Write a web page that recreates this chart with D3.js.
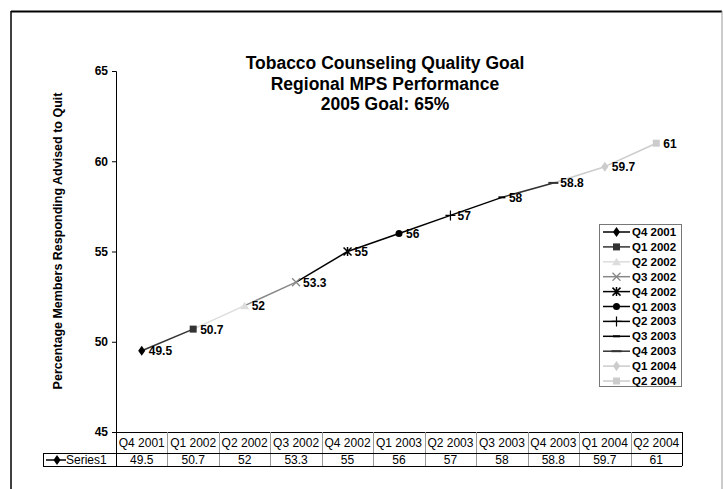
<!DOCTYPE html>
<html><head><meta charset="utf-8">
<script src="https://cdn.jsdelivr.net/npm/d3@7"></script>
<style>body{margin:0;background:#fff;} svg{display:block;font-family:"Liberation Sans",Arial,sans-serif;}</style>
</head><body>
<script>
const categories = ["Q4 2001","Q1 2002","Q2 2002","Q3 2002","Q4 2002","Q1 2003","Q2 2003","Q3 2003","Q4 2003","Q1 2004","Q2 2004"];
const values = [49.5,50.7,52,53.3,55,56,57,58,58.8,59.7,61];
const labels = ["49.5","50.7","52","53.3","55","56","57","58","58.8","59.7","61"];
const yTicks = [45,50,55,60,65];
const titleLines = ["Tobacco Counseling Quality Goal","Regional MPS Performance","2005 Goal: 65%"];
const pointColors = ["#000","#333","#ddd","#888","#000","#000","#000","#000","#333","#ccc","#ccc"];
const pointShapes = ["diamond","square","triangle","x","star","circle","plus","shortdash","longdash","diamond","square"];

const W=723,H=489;
const svg=d3.select("body").append("svg").attr("width",W).attr("height",H);
svg.append("rect").attr("width",W).attr("height",H).attr("fill","#fff");
// outer border
svg.append("line").attr("x1",11).attr("x2",11).attr("y1",11).attr("y2",H).attr("stroke","#000").attr("stroke-width",1.5);
svg.append("line").attr("x1",11).attr("x2",722).attr("y1",11.5).attr("y2",11.5).attr("stroke","#000").attr("stroke-width",2);
svg.append("line").attr("x1",722).attr("x2",722).attr("y1",11).attr("y2",H).attr("stroke","#999").attr("stroke-width",1);

const L=116,R=682,T=71,B=432;
const x=d3.scaleBand().domain(categories).range([L,R]);
const y=d3.scaleLinear().domain([45,65]).range([B,T]);

// title
svg.append("g").selectAll("text").data(titleLines).join("text")
  .attr("x",385).attr("y",(d,i)=>69+i*20.5).attr("text-anchor","middle")
  .attr("font-size",17.5).attr("font-weight","bold").text(d=>d);

// y axis
const ya=svg.append("g").attr("transform",`translate(${L},0)`)
  .call(d3.axisLeft(y).tickValues(yTicks).tickSize(4).tickPadding(4).tickFormat(d3.format("d")));
ya.select(".domain").attr("stroke","#000");
ya.selectAll("text").attr("font-size",12).attr("font-weight","bold").attr("font-family","Liberation Sans, Arial, sans-serif").attr("fill","#000");
ya.selectAll("line").attr("stroke","#000");
svg.append("text").attr("transform",`translate(62,241) rotate(-90)`).attr("text-anchor","middle")
  .attr("font-size",12.5).attr("font-weight","bold").text("Percentage Members Responding Advised to Quit");
// x axis line
svg.append("line").attr("x1",L).attr("x2",R).attr("y1",B+0.5).attr("y2",B+0.5).attr("stroke","#000");

// segments
const cx=c=>x(c)+x.bandwidth()/2;
for(let i=1;i<values.length;i++){
  svg.append("line").attr("x1",cx(categories[i-1])).attr("y1",y(values[i-1]))
    .attr("x2",cx(categories[i])).attr("y2",y(values[i]))
    .attr("stroke",pointColors[i]).attr("stroke-width",1.5);
}
function marker(g,shape,color,px,py,s){
  s=s||1;
  const gg=g.append("g").attr("transform",`translate(${px},${py}) scale(${s})`);
  switch(shape){
    case "diamond": gg.append("path").attr("d",d3.symbol(d3.symbolDiamond,36)()).attr("fill",color).attr("transform","scale(1.1,0.9)");break;
    case "square": gg.append("rect").attr("x",-3.5).attr("y",-3.5).attr("width",7).attr("height",7).attr("fill",color);break;
    case "triangle": gg.append("path").attr("d","M0,-4L4.5,3.5L-4.5,3.5Z").attr("fill",color);break;
    case "x": gg.append("path").attr("d","M-4,-4L4,4M-4,4L4,-4").attr("stroke",color).attr("stroke-width",1.3);break;
    case "star": gg.append("path").attr("d","M-4,-4L4,4M-4,4L4,-4M0,-4.5L0,4.5").attr("stroke",color).attr("stroke-width",1.5);break;
    case "circle": gg.append("circle").attr("r",3.5).attr("fill",color);break;
    case "plus": gg.append("path").attr("d","M-5,0L5,0M0,-5L0,5").attr("stroke",color).attr("stroke-width",1.2);break;
    case "shortdash": gg.append("path").attr("d","M-3.5,0L3.5,0").attr("stroke",color).attr("stroke-width",2);break;
    case "longdash": gg.append("path").attr("d","M-5,0L5,0").attr("stroke",color).attr("stroke-width",2);break;
  }
}
const pts=svg.append("g");
values.forEach((v,i)=>{
  marker(pts,pointShapes[i],pointColors[i],cx(categories[i]),y(v));
});
svg.append("g").selectAll("text").data(values).join("text")
  .attr("x",(d,i)=>cx(categories[i])+7).attr("y",d=>y(d)+4.5)
  .attr("font-size",12).attr("font-weight","bold").text((d,i)=>labels[i]);

// legend
const lg=svg.append("g");
lg.append("rect").attr("x",599.5).attr("y",224.5).attr("width",82).attr("height",162).attr("fill","#fff").attr("stroke","#777");
categories.forEach((c,i)=>{
  const ly=232+i*14.9;
  lg.append("line").attr("x1",603).attr("x2",630).attr("y1",ly).attr("y2",ly).attr("stroke",pointColors[i]).attr("stroke-width",1.5);
  marker(lg,pointShapes[i],pointColors[i],616.5,ly);
  lg.append("text").attr("x",632).attr("y",ly+4).attr("font-size",11.5).attr("font-weight","bold").text(c);
});

// data table
const tb=svg.append("g");
const hT=432,hB=453,rB=466;
categories.forEach((c,i)=>{
  tb.append("text").attr("x",cx(c)).attr("y",hT+15).attr("text-anchor","middle").attr("font-size",12).text(c);
  tb.append("text").attr("x",cx(c)).attr("y",rB-2.5).attr("text-anchor","middle").attr("font-size",12).text(labels[i]);
});
// vertical dividers
d3.range(categories.length+1).forEach(i=>{
  const xx=Math.round(L+i*x.bandwidth())+0.5;
  tb.append("line").attr("x1",xx).attr("x2",xx).attr("y1",hT).attr("y2",rB).attr("stroke",(i===0||i===categories.length)?"#000":"#999");
});
tb.append("line").attr("x1",43).attr("x2",R).attr("y1",hB+0.5).attr("y2",hB+0.5).attr("stroke","#000");
tb.append("line").attr("x1",43).attr("x2",R).attr("y1",rB+0.5).attr("y2",rB+0.5).attr("stroke","#000");
tb.append("line").attr("x1",43.5).attr("x2",43.5).attr("y1",hB).attr("y2",rB).attr("stroke","#000");
tb.append("line").attr("x1",46).attr("x2",66).attr("y1",hB+7).attr("y2",hB+7).attr("stroke","#000").attr("stroke-width",1.5);
marker(tb,"diamond","#000",57,hB+7);
tb.append("text").attr("x",66).attr("y",rB-2.5).attr("font-size",12).text("Series1");
</script>
</body></html>
